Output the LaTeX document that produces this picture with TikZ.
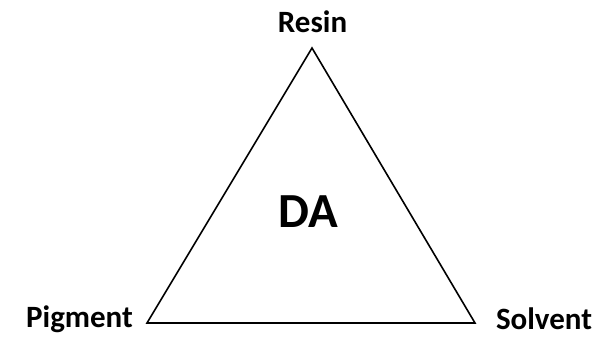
\documentclass[tikz,border=0pt]{standalone}
\usepackage{fontspec}
\setmainfont{Carlito}
\usepackage{tikz}
\usetikzlibrary{calc}
\tikzstyle{lbl} = [font=\bfseries\fontsize{31}{36}\selectfont, inner sep=0pt, anchor=base]
\tikzstyle{mid} = [font=\bfseries\fontsize{49}{56}\selectfont, inner sep=0pt, anchor=base]

\begin{document}
\begin{tikzpicture}
    [x=1pt, y=-1pt]
    \useasboundingbox (0,0) rectangle (594,337);
    \coordinate (top) at (312,48);
    \coordinate (left) at (147,323);
    \coordinate (right) at (475,323);
    % simple triangle
    \draw[line width=1.6pt, line join=miter] (top) -- (left) -- (right) -- cycle;
    \node[lbl] (resin) at (312.5,33) {Resin};
    \node[lbl] (pigment) at (79.5,327) {Pigment};
    \node[lbl] (solvent) at (544,329) {Solvent};
    \node[mid] (da) at (308,227) {DA};
  \end{tikzpicture}
\end{document}
